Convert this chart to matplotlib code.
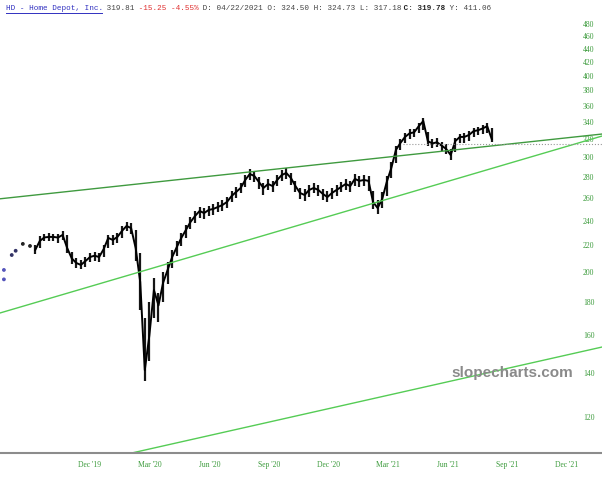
import matplotlib
matplotlib.use('Agg')
import matplotlib.pyplot as plt
import matplotlib.dates as mdates
from matplotlib.lines import Line2D
from matplotlib.ticker import NullLocator
import pandas as pd

# sparse early prints before the continuous series
early_dates = ['2019-07-22', '2019-07-22', '2019-08-03', '2019-08-09', '2019-08-20', '2019-08-31']
early_prices = [201.6, 195.0, 212.5, 215.7, 221.0, 219.4]

# weekly closes / lows / highs, starting 2019-09-08
week_start = '2019-09-08'
closes = [
    216.3, 223.3, 226.1, 226.5, 226.5, 226.0, 228.1, 217.8, 210.0, 206.6,
    205.2, 208.0, 211.0, 212.0, 211.0, 217.0, 225.7, 224.1, 226.5, 231.3,
    235.4, 233.7, 217.8, 193.2, 141.6, 160.0, 187.8, 177.9, 192.6, 201.6,
    211.0, 218.5, 225.7, 232.1, 238.7, 243.8, 248.2, 246.4, 249.1, 250.0,
    251.7, 253.5, 256.2, 261.6, 265.4, 269.2, 276.9, 282.8, 280.8, 274.9,
    269.2, 273.0, 271.0, 276.9, 281.8, 283.8, 278.9, 271.0, 264.5, 262.6,
    267.3, 269.2, 267.3, 263.6, 260.7, 264.5, 267.3, 270.1, 273.0, 271.0,
    277.9, 276.0, 276.9, 276.0, 256.2, 250.8, 258.9, 275.0, 288.9, 307.8,
    315.6, 322.3, 326.4, 327.6, 334.7, 340.8, 317.5, 315.0, 316.3, 312.6,
    309.0, 302.4, 317.5, 322.3, 322.3, 324.5, 328.9, 330.0, 332.1, 334.7,
    319.8,
]
lows = [
    213, 218, 223, 223, 223, 222, 224, 214, 206, 203,
    202, 204, 207, 208, 207, 211, 218, 220, 222, 226,
    231, 229, 208, 175, 136.5, 146, 170, 168, 180, 192,
    203, 212, 219, 226, 233, 238, 242, 241, 244, 245,
    247, 248, 251, 256, 260, 264, 270, 277, 275, 268,
    263, 267, 265, 271, 276, 278, 272, 265, 259, 257,
    261, 264, 262, 258, 256, 259, 262, 265, 267, 265,
    271, 270, 271, 266, 250, 246, 251, 262, 279, 294,
    308, 316, 320, 322, 327, 330, 312, 310, 311, 307,
    303, 297, 306, 316, 316, 318, 322, 324, 326, 327,
    317,
]
highs = [
    220, 227, 229, 230, 229, 229, 231, 228, 215, 210,
    209, 211, 214, 215, 214, 220, 228, 228, 230, 235,
    239, 238, 232, 214, 170, 180, 196, 186, 200, 207,
    216, 223, 230, 236, 243, 248, 252, 251, 253, 254,
    256, 258, 261, 266, 270, 274, 282, 288, 286, 280,
    274, 278, 276, 282, 287, 289, 284, 276, 269, 268,
    272, 274, 272, 268, 266, 269, 272, 275, 278, 276,
    283, 281, 282, 281, 266, 258, 265, 281, 295, 312,
    320, 327, 331, 332, 339, 345, 328, 320, 321, 317,
    314, 309, 321, 326, 327, 329, 333, 334, 336, 338,
    333,
]

# trend lines (start/end date, start/end price)
upper_dates = ['2019-07-16', '2022-01-24']
upper_prices = [259.1, 325.6]
mid_dates = ['2019-07-16', '2022-01-24']
mid_prices = [173.2, 323.3]
low_dates = ['2020-02-03', '2022-01-24']
low_prices = [105.7, 153.6]

last_level = 314.0
level_dates = ['2021-03-25', '2022-01-24']

y_ticks = list(range(120, 481, 20))
x_ticks = ['2019-12-01', '2020-03-01', '2020-06-01', '2020-09-01', '2020-12-01',
           '2021-03-01', '2021-06-01', '2021-09-01', '2021-12-01']

green_txt = '#3a9a3a'

fig = plt.figure(figsize=(6.02, 4.8), dpi=100)
ax = fig.add_axes([0, 27 / 480, 1, 453 / 480])

dates = pd.date_range(week_start, periods=len(closes), freq='7D')
ax.vlines(dates, lows, highs, color='#151515', lw=1.6)
ax.plot(dates, closes, color='black', lw=1.4)
ax.scatter(pd.to_datetime(early_dates), early_prices, s=3,
           color=['#5555bb', '#5555bb', '#333366', '#333366', '#222222', '#222222'], zorder=3)

ax.plot(pd.to_datetime(upper_dates), upper_prices, color='#3f9a3f', lw=1.0)
ax.plot(pd.to_datetime(mid_dates), mid_prices, color='#55cc55', lw=1.0)
ax.plot(pd.to_datetime(low_dates), low_prices, color='#55cc55', lw=1.0)
ax.plot(pd.to_datetime(level_dates), [last_level, last_level], color='#999999', lw=0.8, ls=':')

ax.set_yscale('log')
ax.set_ylim(105.7, 522.4)
ax.set_xlim(pd.Timestamp('2019-07-16'), pd.Timestamp('2022-01-24'))

ax.yaxis.tick_right()
ax.set_yticks(y_ticks)
ax.set_yticklabels([str(v) for v in y_ticks])
ax.yaxis.set_minor_locator(NullLocator())
ax.tick_params(axis='y', length=0, pad=-13.7, labelcolor=green_txt, labelsize=5.5)

ax.set_xticks(pd.to_datetime(x_ticks))
ax.xaxis.set_major_formatter(mdates.DateFormatter("%b '%y"))
ax.xaxis.set_minor_locator(NullLocator())
ax.tick_params(axis='x', length=0, pad=6, labelcolor=green_txt, labelsize=5.5)
for lab in ax.get_xticklabels() + ax.get_yticklabels():
    lab.set_family('Liberation Serif')

for side in ['left', 'top', 'right']:
    ax.spines[side].set_visible(False)
ax.spines['bottom'].set_color('#8c8c8c')
ax.spines['bottom'].set_linewidth(1.5)

fig.text(512 / 602, 1 - 373 / 480, 'slopecharts.com', ha='center', va='center',
         fontsize=11, weight='bold', color='#8a8a8a', family='Liberation Sans')

# header line, monospace pieces
pieces = [
    ('HD - Home Depot, Inc.', '#3030c0', 'normal'),
    (' 319.81', '#444444', 'normal'),
    (' -15.25 -4.55%', '#e03030', 'normal'),
    (' D: 04/22/2021 O: 324.50 H: 324.73 L: 317.18', '#444444', 'normal'),
    (' C: 319.78', '#222222', 'bold'),
    (' Y: 411.06', '#444444', 'normal'),
]
char_w = 4.57
pos = 0
for txt, col, wt in pieces:
    fig.text((6 + pos * char_w) / 602, 1 - 8 / 480, txt, ha='left', va='center',
             fontsize=5.5, family='Liberation Mono', color=col, weight=wt)
    pos += len(txt)
fig.add_artist(Line2D([6 / 602, 102 / 602], [1 - 13 / 480, 1 - 13 / 480],
                      color='#3030c0', lw=0.7, transform=fig.transFigure))

fig.savefig('out.png', dpi=100)
